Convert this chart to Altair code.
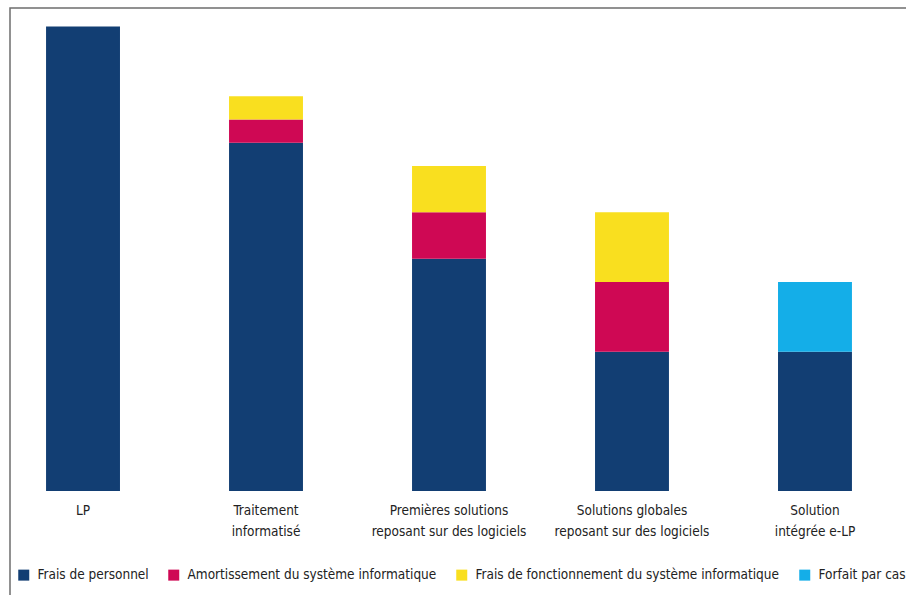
import altair as alt
import pandas as pd

categories = ["LP", "Traitement\ninformatisé", "Premières solutions\nreposant sur des logiciels",
              "Solutions globales\nreposant sur des logiciels", "Solution\nintégrée e-LP"]
series = ["Frais de personnel", "Amortissement du système informatique",
          "Frais de fonctionnement du système informatique", "Forfait par cas"]
colors = ["#123e73", "#cf0854", "#f9df1f", "#14aee8"]

personnel = [100, 75, 50, 30, 30]
amortissement = [0, 5, 10, 15, 0]
fonctionnement = [0, 5, 10, 15, 0]
forfait = [0, 0, 0, 0, 15]

rows = []
for i, c in enumerate(categories):
    for j, (s, vals) in enumerate(zip(series, [personnel, amortissement, fonctionnement, forfait])):
        if vals[i] > 0:
            rows.append({"cat": c, "serie": s, "val": vals[i], "ord": j})
df = pd.DataFrame(rows)

FONT = "DejaVu Sans Condensed"

bars = alt.Chart(df).mark_bar().encode(
    x=alt.X("cat:N", sort=categories, title=None,
            scale=alt.Scale(paddingInner=0.596, paddingOuter=0.197),
            axis=alt.Axis(labelAngle=0, domain=False, ticks=False, labelPadding=12,
                          labelExpr="split(datum.label, '\\n')", labelFont=FONT,
                          labelFontSize=13.5, labelColor="#222222", labelLineHeight=21,
                          labelBaseline="top")),
    y=alt.Y("val:Q", stack="zero", scale=alt.Scale(domain=[0, 104], nice=False), axis=None),
    color=alt.Color("serie:N", sort=series,
                    scale=alt.Scale(domain=series, range=colors),
                    legend=alt.Legend(title=None, orient="none", direction="horizontal",
                                      legendX=7, legendY=560, symbolType="square",
                                      symbolSize=121, symbolStrokeWidth=0, labelFont=FONT,
                                      labelFontSize=13.5, labelColor="#222222",
                                      labelOffset=7, columnPadding=18, labelLimit=0)),
    order=alt.Order("ord:Q"),
)

frame = alt.Chart(alt.Data(values=[{"a": 1}])).mark_rect(
    fill=None, stroke="#6e6e6e", strokeWidth=1.5
).encode(x=alt.value(0), x2=alt.value(1200), y=alt.value(0), y2=alt.value(1200))

chart = alt.layer(frame, bars).properties(
    width=878, height=483,
    autosize=alt.AutoSizeParams(type="none"),
    padding={"left": 10, "top": 8, "right": 18, "bottom": 104},
).configure_view(stroke=None)

chart.save("out.html", embed_options={"renderer": "svg", "actions": False})
